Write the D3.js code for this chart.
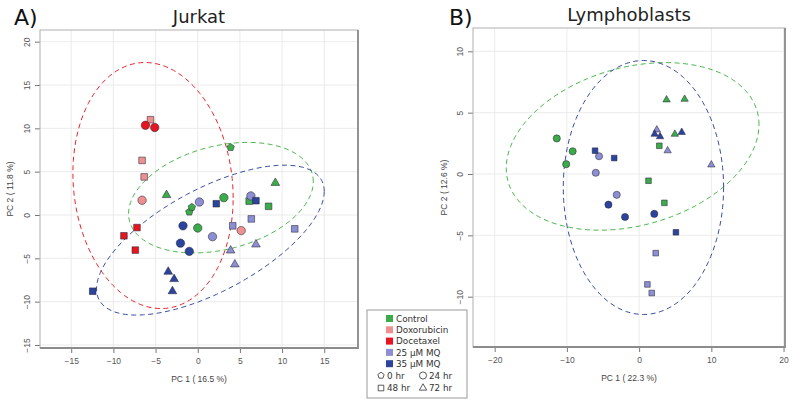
<!DOCTYPE html>
<html>
<head>
<meta charset="utf-8">
<script src="https://cdn.jsdelivr.net/npm/d3@7"></script>
<style>
  body { margin: 0; background: #fff; }
  svg { display: block; }
  .tick text { font-family: "Liberation Sans", Arial, sans-serif; font-size: 8.5px; fill: #555; }
  .axis-title { font-family: "Liberation Sans", Arial, sans-serif; font-size: 8.5px; fill: #444; }
  .panel-title { font-family: "DejaVu Sans", Verdana, sans-serif; font-size: 18px; fill: #222; }
  .panel-letter { font-family: "DejaVu Sans", Verdana, sans-serif; font-size: 22px; fill: #111; }
  .legend text { font-family: "DejaVu Sans", Verdana, sans-serif; font-size: 8.8px; fill: #333; }
</style>
</head>
<body>
<div id="chart"></div>
<script>
// groups, colours and sampling times
var groups = ["Control", "Doxorubicin", "Docetaxel", "25 µM MQ", "35 µM MQ"];
var groupColors = ["#3cac48", "#ef9090", "#e81520", "#8d8ed4", "#2b449e"];
var times = ["0 hr", "24 hr", "48 hr", "72 hr"];

// Jurkat scores: [group, time, PC1, PC2]
var jurkat = [
  ["Control", "0 hr", 3.9, 7.8], ["Control", "0 hr", -1.0, 0.35], ["Control", "0 hr", -0.7, 0.9],
  ["Control", "24 hr", 3.1, 2.0], ["Control", "24 hr", 0.0, -1.5],
  ["Control", "48 hr", 6.1, 1.6], ["Control", "48 hr", 8.4, 1.0],
  ["Control", "72 hr", 9.2, 3.7], ["Control", "72 hr", -3.7, 2.3],
  ["Doxorubicin", "48 hr", -5.6, 11.0], ["Doxorubicin", "48 hr", -6.6, 6.3], ["Doxorubicin", "48 hr", -6.35, 4.4],
  ["Doxorubicin", "24 hr", -6.6, 1.7], ["Doxorubicin", "24 hr", 5.15, -1.8],
  ["Docetaxel", "24 hr", -6.2, 10.35], ["Docetaxel", "24 hr", -5.1, 10.1],
  ["Docetaxel", "48 hr", -8.75, -2.4], ["Docetaxel", "48 hr", -7.2, -1.45], ["Docetaxel", "48 hr", -7.4, -4.05],
  ["25 µM MQ", "24 hr", 0.2, 1.5], ["25 µM MQ", "24 hr", 6.3, 2.2], ["25 µM MQ", "24 hr", 1.75, -2.5],
  ["25 µM MQ", "48 hr", 4.15, -1.25], ["25 µM MQ", "48 hr", 6.35, -0.45], ["25 µM MQ", "48 hr", 11.5, -1.6],
  ["25 µM MQ", "72 hr", 3.9, -4.1], ["25 µM MQ", "72 hr", 6.9, -3.4], ["25 µM MQ", "72 hr", 4.4, -5.7],
  ["35 µM MQ", "48 hr", 2.2, 1.3], ["35 µM MQ", "48 hr", 6.9, 1.65], ["35 µM MQ", "48 hr", -12.45, -8.8],
  ["35 µM MQ", "24 hr", -1.75, -1.25], ["35 µM MQ", "24 hr", -2.05, -3.25], ["35 µM MQ", "24 hr", -1.0, -4.2],
  ["35 µM MQ", "72 hr", -3.5, -6.55], ["35 µM MQ", "72 hr", -2.8, -7.4], ["35 µM MQ", "72 hr", -3.0, -8.8]
];

// Lymphoblast scores: [group, time, PC1, PC2]
var lympho = [
  ["Control", "24 hr", -11.4, 2.9], ["Control", "24 hr", -9.2, 1.85], ["Control", "24 hr", -10.1, 0.8],
  ["Control", "48 hr", 1.3, -0.55], ["Control", "48 hr", 2.8, 2.3], ["Control", "48 hr", 3.5, -2.35],
  ["Control", "72 hr", 3.8, 6.05], ["Control", "72 hr", 6.3, 6.1], ["Control", "72 hr", 4.95, 3.25],
  ["25 µM MQ", "24 hr", -5.55, 1.45], ["25 µM MQ", "24 hr", -6.0, 0.1], ["25 µM MQ", "24 hr", -3.1, -1.7],
  ["25 µM MQ", "48 hr", 2.3, -6.45], ["25 µM MQ", "48 hr", 1.15, -9.0], ["25 µM MQ", "48 hr", 1.75, -9.7],
  ["25 µM MQ", "72 hr", 2.45, 3.6], ["25 µM MQ", "72 hr", 3.95, 1.9], ["25 µM MQ", "72 hr", 10.0, 0.75],
  ["35 µM MQ", "48 hr", -6.1, 1.9], ["35 µM MQ", "48 hr", -3.45, 1.3], ["35 µM MQ", "48 hr", 5.1, -4.75],
  ["35 µM MQ", "24 hr", -4.25, -2.5], ["35 µM MQ", "24 hr", -1.95, -3.5], ["35 µM MQ", "24 hr", 2.1, -3.25],
  ["35 µM MQ", "72 hr", 2.15, 3.25], ["35 µM MQ", "72 hr", 2.9, 3.05], ["35 µM MQ", "72 hr", 5.9, 3.4]
];

// confidence ellipses: [group, centre PC1, centre PC2, half-width, half-height, correlation]
var jurkatEllipses = [
  ["Docetaxel", -5.3, 3.4, 9.5, 14.2, -0.1],
  ["Control", 2.75, 2.0, 10.95, 6.38, 0.29],
  ["35 µM MQ", 1.5, -2.9, 13.5, 8.65, 0.65]
];
var lymphoEllipses = [
  ["Control", -0.9, 2.25, 17.5, 6.83, 0.26],
  ["35 µM MQ", 0.6, -1.1, 11.1, 10.35, 0.0]
];
var ellipseColors = { "Control": "#4cb64c", "Docetaxel": "#e8252b", "35 µM MQ": "#3a4fa0" };

var jurkatXTicks = [-15, -10, -5, 0, 5, 10, 15];
var jurkatYTicks = [-15, -10, -5, 0, 5, 10, 15, 20];
var lymphoXTicks = [-20, -10, 0, 10, 20];
var lymphoYTicks = [-10, -5, 0, 5, 10];

var color = d3.scaleOrdinal().domain(groups).range(groupColors);

var svg = d3.select("#chart").append("svg")
  .attr("width", 800).attr("height", 406);

// pentagon symbol, size used as circumradius
var pentagon = {
  draw: function (ctx, r) {
    for (var i = 0; i < 5; i++) {
      var a = -Math.PI / 2 + i * 2 * Math.PI / 5;
      if (i == 0) ctx.moveTo(r * Math.cos(a), r * Math.sin(a));
      else ctx.lineTo(r * Math.cos(a), r * Math.sin(a));
    }
    ctx.closePath();
  }
};
function shapePath(time, k) {
  var p = d3.path();
  if (time == "0 hr") {
    pentagon.draw(p, 3.9 * k);
  } else if (time == "24 hr") {
    p.arc(0, 0, 4.2 * k, 0, 2 * Math.PI);
  } else if (time == "48 hr") {
    var s = 3.3 * k;
    p.rect(-s, -s, 2 * s, 2 * s);
  } else {
    var R = 5 * k;
    p.moveTo(0, -R);
    p.lineTo(R * Math.sin(Math.PI / 3), R / 2);
    p.lineTo(-R * Math.sin(Math.PI / 3), R / 2);
    p.closePath();
  }
  return p.toString();
}

function drawPanel(opt) {
  var x = d3.scaleLinear().domain(opt.xDomain).range([opt.left, opt.right]);
  var y = d3.scaleLinear().domain(opt.yDomain).range([opt.bottom, opt.top]);
  var g = svg.append("g");

  // grid
  g.selectAll(".gx").data(opt.xTicks).enter().append("line")
    .attr("x1", function (d) { return x(d); }).attr("x2", function (d) { return x(d); })
    .attr("y1", opt.top).attr("y2", opt.bottom)
    .attr("stroke", "#e6e6e6").attr("stroke-width", 0.8);
  g.selectAll(".gy").data(opt.yTicks).enter().append("line")
    .attr("y1", function (d) { return y(d); }).attr("y2", function (d) { return y(d); })
    .attr("x1", opt.left).attr("x2", opt.right)
    .attr("stroke", "#e6e6e6").attr("stroke-width", 0.8);

  // axes
  var xa = g.append("g").attr("transform", "translate(0," + opt.bottom + ")")
    .call(d3.axisBottom(x).tickValues(opt.xTicks).tickSize(5).tickSizeOuter(0).tickPadding(5));
  xa.select(".domain").remove();
  xa.selectAll(".tick line").attr("stroke", "#777");
  var ya = g.append("g").attr("transform", "translate(" + opt.left + ",0)")
    .call(d3.axisLeft(y).tickValues(opt.yTicks).tickSize(5).tickSizeOuter(0));
  ya.select(".domain").remove();
  ya.selectAll(".tick line").attr("stroke", "#777");
  ya.selectAll(".tick text")
    .attr("x", null).attr("dy", null)
    .attr("text-anchor", "middle")
    .attr("transform", "translate(-10,0) rotate(-90)");

  // ellipses
  var line = d3.line()
    .x(function (d) { return x(d[0]); })
    .y(function (d) { return y(d[1]); });
  opt.ellipses.forEach(function (e) {
    var pts = d3.range(0, 361, 3).map(function (deg) {
      var t = deg * Math.PI / 180;
      return [e[1] + e[3] * Math.cos(t),
              e[2] + e[4] * (e[5] * Math.cos(t) + Math.sqrt(1 - e[5] * e[5]) * Math.sin(t))];
    });
    g.append("path").attr("d", line(pts))
      .attr("fill", "none")
      .attr("stroke", ellipseColors[e[0]])
      .attr("stroke-width", 1)
      .attr("stroke-dasharray", "5,3.5");
  });

  // points
  g.selectAll(".pt").data(opt.points).enter().append("path")
    .attr("transform", function (d) { return "translate(" + x(d[2]) + "," + y(d[3]) + ")"; })
    .attr("d", function (d) { return shapePath(d[1], opt.k); })
    .attr("fill", function (d) { return color(d[0]); })
    .attr("stroke", "#2a2a3a").attr("stroke-width", 0.7).attr("stroke-opacity", 0.8);

  // frame
  g.append("rect").attr("x", opt.left).attr("y", opt.top)
    .attr("width", opt.right - opt.left).attr("height", opt.bottom - opt.top)
    .attr("fill", "none").attr("stroke", "#b0b0b0").attr("stroke-width", 1);
  g.append("path")
    .attr("d", "M" + opt.right + "," + opt.top + "V" + opt.bottom + "H" + opt.left)
    .attr("fill", "none").attr("stroke", "#8c8c8c").attr("stroke-width", 1.8);

  // titles
  g.append("text").attr("class", "axis-title")
    .attr("x", (opt.left + opt.right) / 2).attr("y", opt.bottom + 34)
    .attr("text-anchor", "middle").text(opt.xTitle);
  g.append("text").attr("class", "axis-title")
    .attr("transform", "translate(" + opt.yTitleX + "," + ((opt.top + opt.bottom) / 2) + ") rotate(-90)")
    .attr("text-anchor", "middle").text(opt.yTitle);
  g.append("text").attr("class", "panel-title")
    .attr("x", (opt.left + opt.right) / 2).attr("y", opt.titleY)
    .attr("text-anchor", "middle").text(opt.title);
  g.append("text").attr("class", "panel-letter")
    .attr("x", opt.letterX).attr("y", 25).text(opt.letter);
}

drawPanel({
  points: jurkat, ellipses: jurkatEllipses, k: 1,
  xDomain: [-18.7, 19], yDomain: [-15.35, 21.35],
  xTicks: jurkatXTicks, yTicks: jurkatYTicks,
  left: 40, right: 358, top: 30, bottom: 348,
  xTitle: "PC 1 ( 16.5 %)", yTitle: "PC 2 ( 11.8 %)", yTitleX: 13,
  title: "Jurkat", titleY: 23, letter: "A)", letterX: 14
});
drawPanel({
  points: lympho, ellipses: lymphoEllipses, k: 0.85,
  xDomain: [-23, 20.2], yDomain: [-14.1, 11.9],
  xTicks: lymphoXTicks, yTicks: lymphoYTicks,
  left: 473, right: 785, top: 28, bottom: 347,
  xTitle: "PC 1 ( 22.3 %)", yTitle: "PC 2 ( 12.6 %)", yTitleX: 447,
  title: "Lymphoblasts", titleY: 21, letter: "B)", letterX: 449
});

// legend
var lg = svg.append("g").attr("class", "legend");
lg.append("rect").attr("x", 367).attr("y", 310).attr("width", 100).attr("height", 88)
  .attr("fill", "#fff").attr("stroke", "#999").attr("stroke-width", 1);
groups.forEach(function (gName, i) {
  var yy = 318.5 + i * 11.3;
  lg.append("rect").attr("x", 386).attr("y", yy - 3.5).attr("width", 7).attr("height", 7)
    .attr("fill", color(gName));
  lg.append("text").attr("x", 396).attr("y", yy + 3.3).text(gName);
});
times.forEach(function (t, i) {
  var cx = i % 2 == 0 ? 381 : 423;
  var yy = 375.5 + Math.floor(i / 2) * 12.5;
  lg.append("path").attr("transform", "translate(" + cx + "," + yy + ")")
    .attr("d", shapePath(t, 0.85))
    .attr("fill", "none").attr("stroke", "#333").attr("stroke-width", 0.8);
  lg.append("text").attr("x", cx + 6).attr("y", yy + 3.3).text(t);
});
</script>
</body>
</html>
